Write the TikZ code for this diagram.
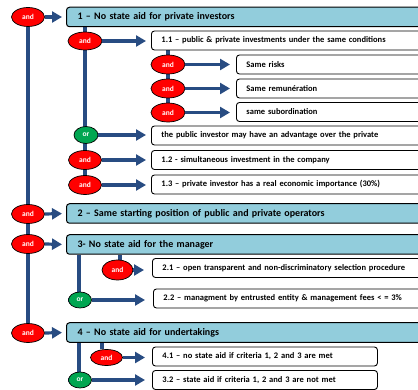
\documentclass[tikz,border=0pt]{standalone}
\usepackage{fontspec}
\setmainfont{Carlito}
\usetikzlibrary{shapes.geometric,arrows.meta,backgrounds}

\definecolor{headblue}{RGB}{146,205,220}
\definecolor{linkblue}{RGB}{40,76,130}
\definecolor{orgreen}{RGB}{0,166,81}

\tikzset{
  gate/.style={ellipse, draw=black, line width=0.7pt, inner sep=0pt,
    text=white, font=\bfseries\fontsize{7.5}{8}\selectfont},
  andgate/.style={gate, fill=red, minimum width=33pt, minimum height=19pt},
  orgate/.style={gate, fill=orgreen, minimum width=24pt, minimum height=17pt},
  headbox/.style={draw=black, line width=1pt, rounded corners=3pt, fill=headblue,
    anchor=west, minimum height=19.5pt, text width=420pt, inner xsep=11pt,
    align=left, font=\bfseries\fontsize{10}{12}\selectfont},
  itembox/.style={draw=black, line width=0.9pt, rounded corners=3pt, fill=white,
    anchor=west, minimum height=19pt, inner xsep=10pt, align=left,
    font=\bfseries\fontsize{8.5}{9}\selectfont},
  wide/.style={itembox, text width=300pt},
  short/.style={itembox, text width=#1},
  link/.style={draw=linkblue, line width=3.2pt},
  arrow/.style={link, -{Triangle[length=10pt,width=11pt]}, shorten >=#1},
  arrow/.default=4pt
}

\begin{document}
\begin{tikzpicture}[x=1pt,y=-1pt]
\useasboundingbox (0,0) rectangle (418,390);
\clip (0,0) rectangle (418,390);

% main criteria
\node[andgate] (a1) at (28,17) {and};
\node[headbox] (h1) at (66,17) {1 – No state aid for private investors};
\node[andgate] (a2) at (28,214) {and};
\node[headbox] (h2) at (66,213.5) {2 – Same starting position of public and private operators};
\node[andgate] (a3) at (28,244) {and};
\node[headbox] (h3) at (66,244.5) {3- No state aid for the manager};
\node[andgate] (a4) at (28,333) {and};
\node[headbox] (h4) at (66,332.5) {4 – No state aid for undertakings};

% criterion 1
\node[andgate, minimum width=34pt, minimum height=18pt] (b1) at (85,41) {and};
\node[wide] (d11) at (151,40.5) {1.1 – public \& private investments under the same conditions};
\node[orgate] (b2) at (86,135) {or};
\node[wide] (dpub) at (151,135.5) {the public investor may have an advantage over the private};
\node[andgate] (b3) at (85,160) {and};
\node[wide] (d12) at (151,160) {1.2 - simultaneous investment in the company};
\node[andgate] (b4) at (85,185) {and};
\node[wide] (d13) at (151,184.5) {1.3 – private investor has a real economic importance (30\%)};

% conditions of 1.1
\node[andgate, minimum width=34pt] (c1) at (168,64.5) {and};
\node[wide] (s1) at (236,64.5) {Same risks};
\node[andgate, minimum width=34pt] (c2) at (168,88.5) {and};
\node[wide] (s2) at (236,88.5) {Same remunération};
\node[andgate, minimum width=34pt] (c3) at (168,112.5) {and};
\node[wide] (s3) at (236,112) {same subordination};

% criterion 3
\node[andgate, minimum width=31pt, minimum height=20pt] (e1) at (117.5,270) {and};
\node[wide] (d21) at (152,268) {2.1 – open transparent and non-discriminatory selection procedure};
\node[orgate, minimum width=23pt, minimum height=16pt] (e2) at (80,300) {or};
\node[wide] (d22) at (153,298.5) {2.2 – managment by entrusted entity \& management fees < = 3\%};

% criterion 4
\node[andgate, minimum width=32pt, minimum height=16pt] (f1) at (106.5,357.5) {and};
\node[short=205pt] (d41) at (152,356.5) {4.1 – no state aid if criteria 1, 2 and 3 are met};
\node[orgate, minimum width=23pt, minimum height=16pt] (f2) at (80,380) {or};
\node[short=205pt] (d32) at (152,380) {3.2 – state aid if criteria 1, 2 and 3 are not met};

\begin{scope}[on background layer]
  % trunks
  \draw[link] (a1) -- (a4);
  \draw[link] (b1 |- h1.south) -- (b4);
  \draw[link] (c1 |- d11.south) -- (c3);
  \draw[link] ([xshift=13pt]h3.south west) |- (e2);
  \draw[link] (e1.north -| 120,0) -- (120,0 |- h3.south);
  \draw[link] ([xshift=13pt]h4.south west) |- (f2);
  \draw[link] (f1.north -| 102,0) -- (102,0 |- h4.south);
\end{scope}

% arrows
\draw[arrow] (a1.east) -- (h1.west);
\draw[arrow] (a2.east) -- (h2.west);
\draw[arrow] (a3.east) -- (h3.west);
\draw[arrow] (a4.east) -- (h4.west);
\draw[arrow=5pt] (b1.east) -- (b1.east -| d11.west);
\draw[arrow=5pt] (b2.east) -- (b2.east -| dpub.west);
\draw[arrow=5pt] (b3.east) -- (b3.east -| d12.west);
\draw[arrow=5pt] (b4.east) -- (b4.east -| d13.west);
\draw[arrow=6pt] (c1.east) -- (c1.east -| s1.west);
\draw[arrow=6pt] (c2.east) -- (c2.east -| s2.west);
\draw[arrow=6pt] (c3.east) -- (c3.east -| s3.west);
\draw[arrow=8pt] (e1.east) -- (e1.east -| d21.west);
\draw[arrow=8pt] (e2.east) -- (e2.east -| d22.west);
\draw[arrow=7pt] (f1.east) -- (f1.east -| d41.west);
\draw[arrow=7pt] (f2.east) -- (f2.east -| d32.west);
\end{tikzpicture}
\end{document}
